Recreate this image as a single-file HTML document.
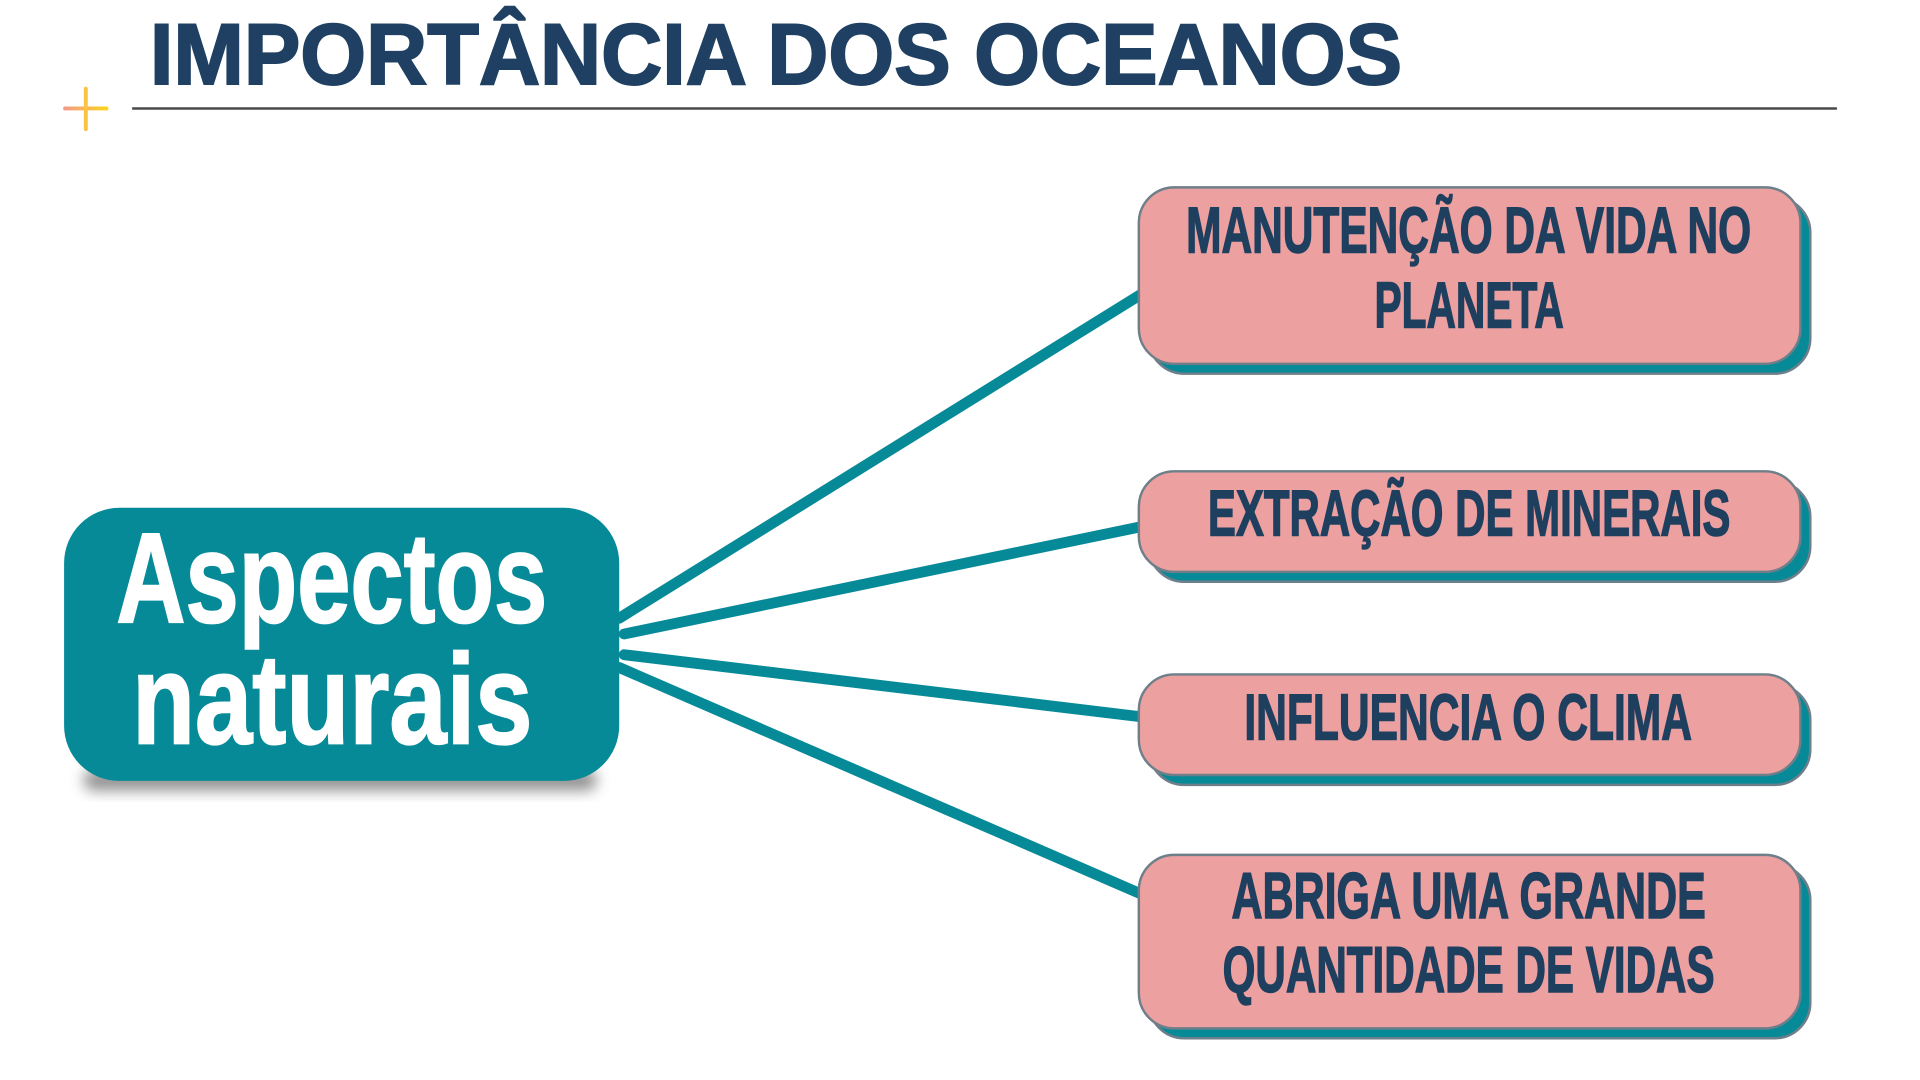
<!DOCTYPE html>
<html><head><meta charset="utf-8"><style>
html,body{margin:0;padding:0;background:#fff;}
svg{display:block;}
</style></head><body>
<svg width="1920" height="1080" viewBox="0 0 1920 1080" xmlns="http://www.w3.org/2000/svg">
<defs>
<linearGradient id="pl" gradientUnits="userSpaceOnUse" x1="65" y1="0" x2="108" y2="0"><stop offset="0" stop-color="#f39a8a"/><stop offset="1" stop-color="#fcd21c"/></linearGradient>
<filter id="bl" x="-20%" y="-50%" width="140%" height="200%"><feGaussianBlur stdDeviation="7"/></filter>
</defs>
<g transform="scale(0.986)">
<!-- title -->
<text x="152" y="85" font-family="Liberation Sans, sans-serif" font-weight="bold" font-size="88" fill="#1f4062" stroke="#1f4062" stroke-width="2" textLength="1270" lengthAdjust="spacingAndGlyphs">IMPORTÂNCIA DOS OCEANOS</text>
<line x1="134" y1="110" x2="1863" y2="110" stroke="#4a4a4a" stroke-width="2.5"/>
<line x1="66" y1="110" x2="108" y2="110" stroke="url(#pl)" stroke-width="4" stroke-linecap="round"/>
<line x1="87" y1="90" x2="87" y2="131" stroke="#fbc243" stroke-width="4" stroke-linecap="round"/>
<!-- connectors -->
<g stroke="#068a98" stroke-width="11" stroke-linecap="round">
<line x1="628" y1="627" x2="1158" y2="298"/>
<line x1="633" y1="643" x2="1158" y2="534"/>
<line x1="633" y1="664" x2="1158" y2="727"/>
<line x1="628" y1="677" x2="1158" y2="907"/>
</g>
<!-- main box -->
<rect x="85" y="780" width="520" height="22" rx="10" fill="#777" filter="url(#bl)" opacity="0.8"/>
<rect x="65" y="515" width="563" height="277" rx="56" fill="#068a98"/>
<g font-family="Liberation Sans, sans-serif" font-weight="bold" fill="#fff" stroke="#fff" stroke-width="2">
<text x="118" y="631" font-size="130" textLength="437" lengthAdjust="spacingAndGlyphs">Aspectos</text>
<text x="134" y="754" font-size="130" textLength="406" lengthAdjust="spacingAndGlyphs">naturais</text>
</g>
<!-- right boxes -->
<g stroke="#6f7f8a" stroke-width="2.5">
<rect x="1165" y="200" width="671" height="179" rx="36" fill="#068a98"/>
<rect x="1155" y="190" width="671" height="179" rx="36" fill="#eca0a0"/>
<rect x="1165" y="488" width="671" height="102" rx="36" fill="#068a98"/>
<rect x="1155" y="478" width="671" height="102" rx="36" fill="#eca0a0"/>
<rect x="1165" y="694" width="671" height="102" rx="36" fill="#068a98"/>
<rect x="1155" y="684" width="671" height="102" rx="36" fill="#eca0a0"/>
<rect x="1165" y="877" width="671" height="176" rx="36" fill="#068a98"/>
<rect x="1155" y="867" width="671" height="176" rx="36" fill="#eca0a0"/>
</g>
<g font-family="Liberation Sans, sans-serif" font-weight="bold" fill="#1f3f5f" stroke="#1f3f5f" stroke-width="1.5" font-size="66">
<text x="1203" y="256" textLength="573" lengthAdjust="spacingAndGlyphs">MANUTENÇÃO DA VIDA NO</text>
<text x="1394" y="332" textLength="192" lengthAdjust="spacingAndGlyphs">PLANETA</text>
<text x="1225" y="543" textLength="530" lengthAdjust="spacingAndGlyphs">EXTRAÇÃO DE MINERAIS</text>
<text x="1262" y="750" textLength="454" lengthAdjust="spacingAndGlyphs">INFLUENCIA O CLIMA</text>
<text x="1249" y="931" textLength="481" lengthAdjust="spacingAndGlyphs">ABRIGA UMA GRANDE</text>
<text x="1240" y="1006" textLength="499" lengthAdjust="spacingAndGlyphs">QUANTIDADE DE VIDAS</text>
</g>
</g>
</svg>
</body></html>
